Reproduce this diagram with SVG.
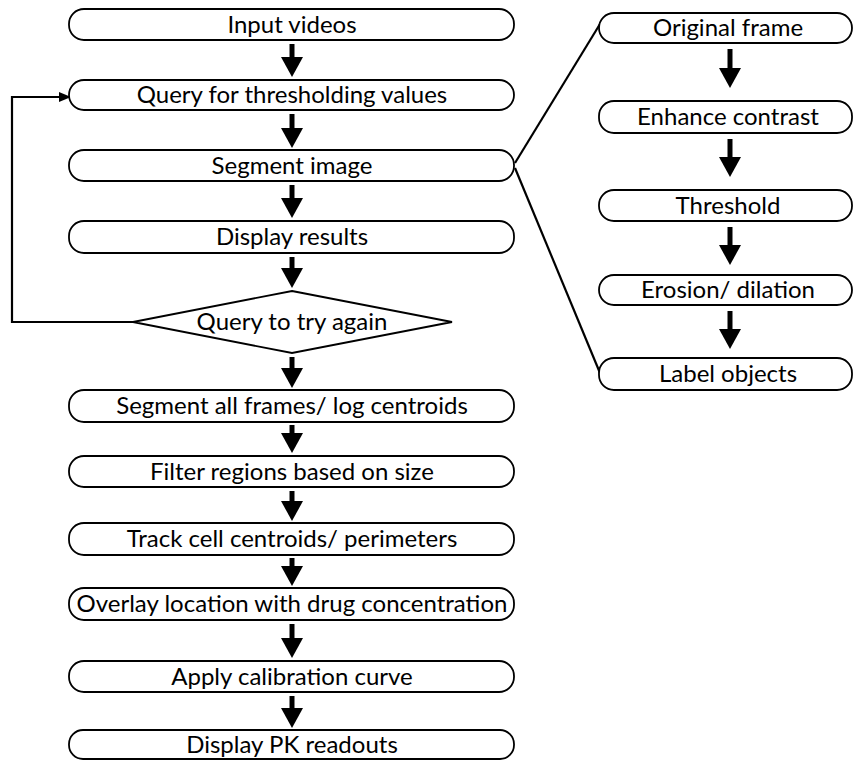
<svg xmlns="http://www.w3.org/2000/svg" width="854" height="760" viewBox="0 0 854 760">
<defs>
<marker id="ah" viewBox="0 0 20 22" refX="0" refY="11" markerWidth="20" markerHeight="22" markerUnits="userSpaceOnUse" orient="auto">
<path d="M0,0 L20,11 L0,22 z" fill="#000"/>
</marker>
<marker id="ahs" viewBox="0 0 12 10" refX="0" refY="5" markerWidth="12" markerHeight="10" markerUnits="userSpaceOnUse" orient="auto">
<path d="M0,0 L12,5 L0,10 z" fill="#000"/>
</marker>
<style>
.n{fill:#fff;stroke:#000;stroke-width:1.8}
.t{font-family:Lato,"Open Sans","Liberation Sans",sans-serif;font-size:24px;fill:#000;text-anchor:middle}
.a{stroke:#000;stroke-width:5;fill:none;marker-end:url(#ah)}
.l{stroke:#000;stroke-width:2.2;fill:none}
</style>
</defs>
<rect width="854" height="760" fill="#fff"/>
<g id="connectors">
<line class="a" x1="292" y1="44" x2="292" y2="57"/>
<line class="a" x1="292" y1="114" x2="292" y2="128"/>
<line class="a" x1="292" y1="185" x2="292" y2="198"/>
<line class="a" x1="292" y1="257" x2="292" y2="268"/>
<line class="a" x1="292" y1="357" x2="292" y2="368"/>
<line class="a" x1="292" y1="425" x2="292" y2="433"/>
<line class="a" x1="292" y1="491" x2="292" y2="501"/>
<line class="a" x1="292" y1="558" x2="292" y2="566"/>
<line class="a" x1="292" y1="624" x2="292" y2="638"/>
<line class="a" x1="292" y1="696" x2="292" y2="708"/>
<line class="a" x1="730" y1="49" x2="730" y2="68"/>
<line class="a" x1="730" y1="139" x2="730" y2="157"/>
<line class="a" x1="730" y1="227" x2="730" y2="245"/>
<line class="a" x1="730" y1="311" x2="730" y2="329"/>
<polyline class="l" points="133,322 12,322 12,97 59,97" marker-end="url(#ahs)"/>
<line class="l" x1="515" y1="163" x2="600" y2="24"/>
<line class="l" x1="515" y1="168" x2="600" y2="373"/>
</g>
<g id="n1"><rect class="n" x="69" y="9" width="445" height="31" rx="15"/><text class="t" x="292" y="32.5">Input videos</text></g>
<g id="n2"><rect class="n" x="69" y="80" width="445" height="30" rx="15"/><text class="t" x="292" y="103">Query for thresholding values</text></g>
<g id="n3"><rect class="n" x="69" y="150" width="445" height="31" rx="15"/><text class="t" x="292" y="173.5">Segment image</text></g>
<g id="n4"><rect class="n" x="69" y="221" width="445" height="32" rx="15"/><text class="t" x="292" y="245">Display results</text></g>
<g id="n5"><polygon class="n" points="292,291 452,322 292,353 133,322"/><text class="t" x="292" y="330">Query to try again</text></g>
<g id="n6"><rect class="n" x="69" y="390" width="445" height="32" rx="15"/><text class="t" x="292" y="414">Segment all frames/ log centroids</text></g>
<g id="n7"><rect class="n" x="69" y="456" width="445" height="31" rx="15"/><text class="t" x="292" y="479.5">Filter regions based on size</text></g>
<g id="n8"><rect class="n" x="69" y="523" width="445" height="32" rx="15"/><text class="t" x="292" y="547">Track cell centroids/ perimeters</text></g>
<g id="n9"><rect class="n" x="69" y="588" width="445" height="32" rx="15"/><text class="t" x="292" y="612">Overlay location with drug concentration</text></g>
<g id="n10"><rect class="n" x="69" y="661" width="445" height="31" rx="15"/><text class="t" x="292" y="684.5">Apply calibration curve</text></g>
<g id="n11"><rect class="n" x="69" y="730" width="445" height="29" rx="14"/><text class="t" x="292" y="752.5">Display PK readouts</text></g>
<g id="r1"><rect class="n" x="599" y="13" width="253" height="30" rx="15"/><text class="t" x="728" y="36">Original frame</text></g>
<g id="r2"><rect class="n" x="599" y="101" width="253" height="32" rx="15"/><text class="t" x="728" y="125">Enhance contrast</text></g>
<g id="r3"><rect class="n" x="599" y="190" width="253" height="31" rx="15"/><text class="t" x="728" y="213.5">Threshold</text></g>
<g id="r4"><rect class="n" x="599" y="275" width="253" height="30" rx="15"/><text class="t" x="728" y="298">Erosion/ dilation</text></g>
<g id="r5"><rect class="n" x="599" y="358" width="253" height="32" rx="15"/><text class="t" x="728" y="382">Label objects</text></g>
</svg>
